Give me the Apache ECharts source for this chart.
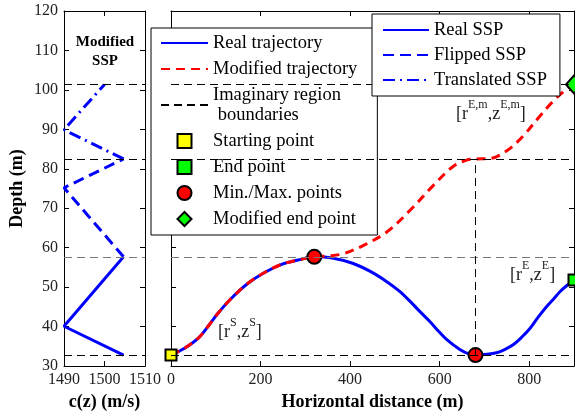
<!DOCTYPE html>
<html><head><meta charset="utf-8">
<script src="https://cdn.jsdelivr.net/npm/echarts@6/dist/echarts.min.js"></script>
<style>html,body{margin:0;padding:0;background:#fff}#c{width:575px;height:416px}</style>
</head><body><div id="c"></div>
<script>
// ---------- data ----------
const boundaries = [32.8, 57.7, 82.5, 101.4];

const sspRealSpeed = [1504.7, 1490, 1504.7];
const sspRealDepth = [32.8, 40.1, 57.7];
const sspFlippedSpeed = [1504.7, 1490, 1504.7];
const sspFlippedDepth = [57.7, 75.2, 82.5];
const sspTranslatedSpeed = [1504.7, 1490, 1500];
const sspTranslatedDepth = [82.5, 89.9, 101.4];

const realRange = [0, 31, 61, 83, 105, 135, 172, 210, 247, 284, 320, 360, 407, 445, 482, 510, 534, 556, 578, 597, 616, 645, 665, 680, 705, 727, 745, 764, 783, 802, 820, 839, 855, 869, 885, 900];
const realDepth = [32.8, 34.6, 37.1, 40.1, 43.4, 47.2, 51.0, 53.8, 55.8, 56.9, 57.7, 57.4, 56.0, 54.0, 51.4, 49.0, 46.4, 43.8, 41.3, 38.9, 36.7, 34.2, 33.1, 32.8, 33.0, 33.4, 34.2, 35.4, 37.3, 39.6, 42.4, 45.1, 47.1, 48.9, 50.5, 51.8];

const modRange = [0, 31, 61, 83, 105, 135, 172, 210, 247, 284, 320, 350, 385, 430, 482, 534, 586, 630, 660, 680, 712, 750, 787, 824, 854, 887, 900];
const modDepth = [32.8, 34.6, 37.1, 40.1, 43.4, 47.2, 51.0, 53.8, 55.8, 56.9, 57.7, 57.9, 58.5, 60.6, 64.0, 69.5, 75.8, 80.6, 82.2, 82.5, 82.6, 84.6, 88.4, 93.4, 97.2, 100.6, 101.4];

const startPoint = [0, 32.8];
const endPoint = [900, 51.8];
const extremaRange = [320, 680];
const extremaDepth = [57.7, 32.8];
const modEndPoint = [900, 101.4];
const verticalRange = [680, 680];
const verticalDepth = [32.8, 82.5];

const speedTicks = {min: 1490, max: 1510, interval: 10};
const rangeTicks = {min: 0, max: 900, interval: 200};
const depthTicks = {min: 30, max: 120, interval: 10};

// ---------- chart ----------
const SERIF = '"Liberation Serif", "Times New Roman", serif';
const zip = (a, b) => a.map((v, i) => [v, b[i]]);
const chart = echarts.init(document.getElementById('c'), null, {renderer: 'canvas'});

function axis(base, extra) {
  return Object.assign({
    type: 'value',
    splitLine: {show: false},
    axisLine: {show: true, onZero: false, lineStyle: {color: '#000', width: 1}},
    axisTick: {show: true, inside: true, length: 5, lineStyle: {color: '#000', width: 1}},
    axisLabel: {show: false},
    nameTextStyle: {fontFamily: SERIF, fontSize: 18, fontWeight: 'bold', color: '#000'}
  }, base, extra);
}
const lbl = (o) => ({axisLabel: Object.assign({show: true, color: '#222', fontFamily: SERIF, fontSize: 16, margin: 6,
  formatter: v => String(v)}, o || {})});

const BLUE = '#0000ff';
const dashed = [8, 5];
const HIDE = {color: 'rgba(0,0,0,0)', borderWidth: 0, opacity: 0};

const boundaryMark = {
  silent: true, symbol: ['none', 'none'], label: {show: false},
  lineStyle: {color: '#000', width: 1, type: dashed},
  data: boundaries.map((b, i) => ({yAxis: b, lineStyle: i === 1 ? {color: '#777', width: 1.2, type: dashed} : {color: '#000', width: 1, type: dashed}}))
};

const legendText = {fontFamily: SERIF, fontSize: 18.5, color: '#000', lineHeight: 20};

const option = {
  animation: false,
  backgroundColor: '#fff',
  grid: [
    {left: 64, top: 11, width: 81, height: 357},
    {left: 171, top: 11, width: 403, height: 357}
  ],
  xAxis: [
    axis({gridIndex: 0, position: 'bottom', name: 'c(z) (m/s)', nameLocation: 'middle', nameGap: 25}, Object.assign({}, speedTicks, lbl())),
    axis({gridIndex: 0, position: 'top'}, speedTicks),
    axis({gridIndex: 1, position: 'bottom', name: 'Horizontal distance (m)', nameLocation: 'middle', nameGap: 25}, Object.assign({}, rangeTicks, lbl({showMaxLabel: false}))),
    axis({gridIndex: 1, position: 'top'}, rangeTicks)
  ],
  yAxis: [
    axis({gridIndex: 0, position: 'left', name: 'Depth (m)', nameLocation: 'middle', nameGap: 38, nameRotate: 90}, Object.assign({}, depthTicks, lbl())),
    axis({gridIndex: 0, position: 'right'}, depthTicks),
    axis({gridIndex: 1, position: 'left'}, depthTicks),
    axis({gridIndex: 1, position: 'right'}, depthTicks)
  ],
  legend: [
    {
      orient: 'vertical', left: 151, top: 28, padding: [5, 20, 6, 9],
      itemWidth: 47, itemHeight: 14, itemGap: 6, selectedMode: false,
      backgroundColor: '#fff', borderColor: '#000', borderWidth: 1, z: 5,
      textStyle: legendText,
      formatter: n => n === 'Imaginary region boundaries' ? 'Imaginary region\n boundaries' : n,
      data: [
        {name: 'Real trajectory', itemStyle: HIDE},
        {name: 'Modified trajectory', itemStyle: HIDE},
        {name: 'Imaginary region boundaries', itemStyle: HIDE},
        {name: 'Starting point', icon: 'path://M0,0L10,0L10,10L0,10Z', itemStyle: {color: '#ffff00', borderColor: '#000', borderWidth: 2}},
        {name: 'End point', icon: 'path://M0,0L10,0L10,10L0,10Z', itemStyle: {color: '#00ff00', borderColor: '#000', borderWidth: 2}},
        {name: 'Min./Max. points', icon: 'circle', itemStyle: {color: '#ff0000', borderColor: '#000', borderWidth: 2}},
        {name: 'Modified end point', icon: 'path://M6,0L12,6L6,12L0,6Z', itemStyle: {color: '#00ff00', borderColor: '#000', borderWidth: 2}}
      ]
    },
    {
      orient: 'vertical', left: 372, top: 14, padding: [6, 13, 6, 10],
      itemWidth: 46, itemHeight: 14, itemGap: 5, selectedMode: false,
      backgroundColor: '#fff', borderColor: '#000', borderWidth: 1, z: 6,
      textStyle: legendText,
      data: [
        {name: 'Real SSP', itemStyle: HIDE},
        {name: 'Flipped SSP', itemStyle: HIDE},
        {name: 'Translated SSP', itemStyle: HIDE}
      ]
    }
  ],
  series: [
    {name: 'Imaginary region boundaries', type: 'line', xAxisIndex: 0, yAxisIndex: 0, data: [], symbol: 'none',
      lineStyle: {color: '#000', width: 1, type: dashed}, itemStyle: {color: '#000'}, markLine: boundaryMark, z: 1},
    {name: 'Imaginary region boundaries', type: 'line', xAxisIndex: 2, yAxisIndex: 2, data: [], symbol: 'none',
      lineStyle: {color: '#000', width: 1, type: dashed}, itemStyle: {color: '#000'}, markLine: boundaryMark, z: 1},
    {name: 'Real SSP', type: 'line', xAxisIndex: 0, yAxisIndex: 0, data: zip(sspRealSpeed, sspRealDepth), symbol: 'none',
      lineStyle: {color: BLUE, width: 3}, itemStyle: {color: BLUE}, z: 2},
    {name: 'Flipped SSP', type: 'line', xAxisIndex: 0, yAxisIndex: 0, data: zip(sspFlippedSpeed, sspFlippedDepth), symbol: 'none',
      lineStyle: {color: BLUE, width: 3, type: [11, 6]}, itemStyle: {color: BLUE}, z: 2},
    {name: 'Translated SSP', type: 'line', xAxisIndex: 0, yAxisIndex: 0, data: zip(sspTranslatedSpeed, sspTranslatedDepth), symbol: 'none',
      lineStyle: {color: BLUE, width: 3, type: [12, 5, 2, 5]}, itemStyle: {color: BLUE}, z: 2},
    {name: 'Real trajectory', type: 'line', xAxisIndex: 2, yAxisIndex: 2, data: zip(realRange, realDepth), symbol: 'none', smooth: 0.35,
      lineStyle: {color: BLUE, width: 3}, itemStyle: {color: BLUE}, z: 2},
    {name: 'Modified trajectory', type: 'line', xAxisIndex: 2, yAxisIndex: 2, data: zip(modRange, modDepth), symbol: 'none', smooth: 0.35,
      lineStyle: {color: '#ff0000', width: 3, type: [9, 6]}, itemStyle: {color: '#ff0000'}, z: 3},
    {name: 'Starting point', type: 'scatter', xAxisIndex: 2, yAxisIndex: 2, data: [startPoint], symbol: 'rect', symbolSize: 11,
      itemStyle: {color: '#ffff00', borderColor: '#000', borderWidth: 2, opacity: 1}, z: 4},
    {name: 'End point', type: 'scatter', xAxisIndex: 2, yAxisIndex: 2, data: [endPoint], symbol: 'rect', symbolSize: 11,
      itemStyle: {color: '#00ff00', borderColor: '#000', borderWidth: 2, opacity: 1}, z: 4},
    {name: 'Min./Max. points', type: 'scatter', xAxisIndex: 2, yAxisIndex: 2, data: zip(extremaRange, extremaDepth), symbol: 'circle', symbolSize: 14,
      itemStyle: {color: '#ff0000', borderColor: '#000', borderWidth: 2, opacity: 1}, z: 4},
    {name: 'Modified end point', type: 'scatter', xAxisIndex: 2, yAxisIndex: 2, data: [modEndPoint], symbol: 'diamond', symbolSize: [16, 18],
      itemStyle: {color: '#00ff00', borderColor: '#000', borderWidth: 2, opacity: 1}, z: 4},
    {name: 'Imaginary region boundaries', type: 'line', xAxisIndex: 2, yAxisIndex: 2, data: zip(verticalRange, verticalDepth), symbol: 'none',
      lineStyle: {color: '#000', width: 1, type: dashed}, itemStyle: {color: '#000'}, z: 5}
  ],
  graphic: [
    {type: 'text', x: 105, y: 52, z: 10, style: {text: 'Modified\nSSP', fontFamily: SERIF, fontSize: 15, fontWeight: 'bold',
      fill: '#000', align: 'center', verticalAlign: 'middle', lineHeight: 19}}
  ]
};

const rich = {
  m: {fontFamily: SERIF, fontSize: 18, lineHeight: 18, verticalAlign: 'bottom', fill: '#222'},
  s: {fontFamily: SERIF, fontSize: 12, lineHeight: 12, padding: [0, 0, 12, 0], verticalAlign: 'bottom', fill: '#222'}
};
const notes = [
  {x: 218, y: 323, text: '{m|[r}{s|S}{m|,z}{s|S}{m|]}'},
  {x: 510, y: 266, text: '{m|[r}{s|E}{m|,z}{s|E}{m|]}'},
  {x: 456, y: 105, text: '{m|[r}{s|E,m}{m|,z}{s|E,m}{m|]}'}
];
notes.forEach(n => option.graphic.push({type: 'text', x: n.x, y: n.y, z: 3,
  style: {text: n.text, rich: rich, fontFamily: SERIF, fontSize: 18, fill: '#222', align: 'left', verticalAlign: 'top'}}));

chart.setOption(option);
</script></body></html>
